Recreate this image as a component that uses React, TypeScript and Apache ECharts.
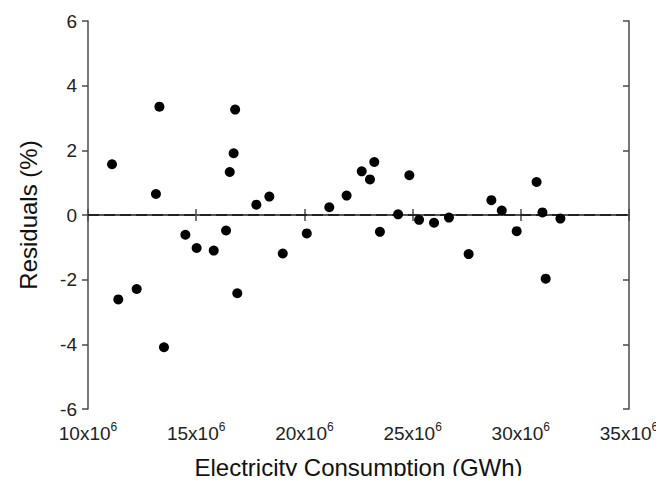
import React, { useEffect, useRef } from "react";
import * as echarts from "echarts";

// Electricity consumption, in units of 10^6 GWh
const consumption = [
  11.11, 11.4, 12.25, 13.14, 13.3, 13.51, 14.5, 15.02, 15.81, 16.38, 16.55, 16.73,
  16.8, 16.9, 17.78, 18.38, 19.0, 20.11, 21.15, 21.95, 22.65, 23.03, 23.23, 23.49,
  24.85, 24.33, 25.3, 25.99, 26.68, 27.59, 28.64, 29.12, 29.81, 30.73, 31.0, 31.15,
  31.83,
];
// Residuals (%)
const residuals = [
  1.57, -2.61, -2.29, 0.65, 3.35, -4.09, -0.61, -1.02, -1.1, -0.48, 1.33, 1.91,
  3.26, -2.42, 0.32, 0.57, -1.19, -0.57, 0.24, 0.6, 1.35, 1.1, 1.64, -0.52,
  1.23, 0.02, -0.15, -0.24, -0.08, -1.21, 0.46, 0.14, -0.5, 1.02, 0.08, -1.97,
  -0.11,
];
const xTicks = [10, 15, 20, 25, 30, 35];
const yTicks = [-6, -4, -2, 0, 2, 4, 6];
const zeroLine = [[10, 0], [35, 0]];
const xTitle = "Electricity Consumption (GWh)";
const yTitle = "Residuals (%)";

const FONT = "Liberation Sans, Arial, sans-serif";
const AXIS_COLOR = "#4a4a4a";

export default function App() {
  const ref = useRef<HTMLDivElement>(null);
  useEffect(() => {
    if (!ref.current) return;
    const chart = echarts.init(ref.current, null, { renderer: "svg" });
    const points = consumption.map((x, i) => [x, residuals[i]]);
    const lineStyle = { color: AXIS_COLOR, width: 1.5 };
    chart.setOption({
      animation: false,
      grid: { left: 88, right: 35, top: 21, bottom: 74, containLabel: false },
      xAxis: [
        {
          type: "value",
          position: "bottom",
          min: xTicks[0],
          max: xTicks[xTicks.length - 1],
          interval: 5,
          splitLine: { show: false },
          axisLine: { show: true, lineStyle },
          axisTick: { show: true, inside: true, length: 6, lineStyle },
          axisLabel: {
            margin: 12,
            formatter: (v: number) => `{a|${v}x10}{b|6}`,
            rich: {
              a: { fontFamily: FONT, fontSize: 19, color: "#222", lineHeight: 22, verticalAlign: "bottom" },
              b: { fontFamily: FONT, fontSize: 12, color: "#222", lineHeight: 22, verticalAlign: "top", padding: [0, 0, 8, 0] },
            },
          },
          name: xTitle,
          nameLocation: "middle",
          nameGap: 46,
          nameTextStyle: { fontFamily: FONT, fontSize: 24, color: "#111" },
        },
        {
          type: "value",
          position: "top",
          min: xTicks[0],
          max: xTicks[xTicks.length - 1],
          interval: 5,
          splitLine: { show: false },
          axisLine: { show: true, lineStyle },
          axisTick: { show: true, inside: true, length: 6, lineStyle },
          axisLabel: { show: false },
        },
      ],
      yAxis: [
        {
          type: "value",
          position: "left",
          min: yTicks[0],
          max: yTicks[yTicks.length - 1],
          interval: 2,
          splitLine: { show: false },
          axisLine: { show: true, lineStyle },
          axisTick: { show: true, inside: false, length: 6, lineStyle },
          axisLabel: { margin: 11, fontFamily: FONT, fontSize: 19, color: "#222" },
          name: yTitle,
          nameLocation: "middle",
          nameGap: 48,
          nameTextStyle: { fontFamily: FONT, fontSize: 24, color: "#111" },
        },
        {
          type: "value",
          position: "right",
          min: yTicks[0],
          max: yTicks[yTicks.length - 1],
          interval: 2,
          splitLine: { show: false },
          axisLine: { show: true, lineStyle },
          axisTick: { show: true, inside: true, length: 6, lineStyle },
          axisLabel: { show: false },
        },
      ],
      series: [
        {
          type: "line",
          xAxisIndex: 0,
          yAxisIndex: 0,
          data: zeroLine,
          symbol: "none",
          silent: true,
          lineStyle: { color: "#222", width: 2.2, type: [11, 5] },
          z: 1,
        },
        {
          type: "scatter",
          xAxisIndex: 0,
          yAxisIndex: 0,
          data: points,
          symbol: "circle",
          symbolSize: 10,
          itemStyle: { color: "#000", opacity: 1 },
          z: 3,
        },
      ],
    });
    return () => chart.dispose();
  }, []);
  return <div ref={ref} style={{ width: 664, height: 484, margin: -8 }} />;
}
